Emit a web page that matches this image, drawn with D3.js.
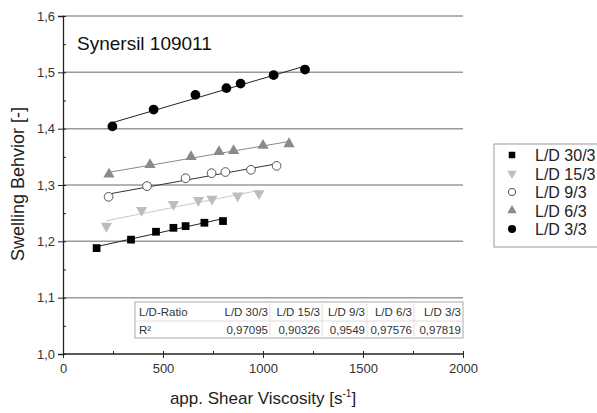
<!DOCTYPE html>
<html><head><meta charset="utf-8">
<script src="https://cdn.jsdelivr.net/npm/d3@7"></script>
<style>body{margin:0;background:#fff}svg{display:block;font-family:Arial,"Liberation Sans",sans-serif}</style>
</head><body>
<svg id="c" width="597" height="413"></svg>
<script>
const seriesNames = ["L/D 30/3","L/D 15/3","L/D 9/3","L/D 6/3","L/D 3/3"];
const x_30_3 = [168,340,465,552,613,707,800];
const y_30_3 = [1.188,1.203,1.217,1.224,1.227,1.233,1.236];
const x_15_3 = [217,393,552,677,745,873,980];
const y_15_3 = [1.227,1.255,1.266,1.273,1.275,1.281,1.285];
const x_9_3 = [228,420,613,743,812,940,1068];
const y_9_3 = [1.279,1.298,1.312,1.321,1.323,1.327,1.334];
const x_6_3 = [230,435,640,780,853,1000,1130];
const y_6_3 = [1.319,1.336,1.350,1.359,1.361,1.370,1.373];
const x_3_3 = [247,453,662,817,888,1053,1210];
const y_3_3 = [1.404,1.434,1.460,1.472,1.480,1.495,1.505];
const r2Values = ["0,97095","0,90326","0,9549","0,97576","0,97819"];
const xTicks = [0,500,1000,1500,2000];
const yTicks = [1.0,1.1,1.2,1.3,1.4,1.5,1.6];

const styles = [
  {sym:d3.symbolSquare, size:60, fill:"#000", stroke:"none", line:"#222"},
  {sym:"down", size:55, fill:"#bdbdbd", stroke:"none", line:"#c8c8c8"},
  {sym:d3.symbolCircle, size:60, fill:"#fff", stroke:"#555", line:"#333"},
  {sym:d3.symbolTriangle, size:55, fill:"#8a8a8a", stroke:"none", line:"#8a8a8a"},
  {sym:d3.symbolCircle, size:75, fill:"#000", stroke:"none", line:"#222"}
];
const xs=[x_30_3,x_15_3,x_9_3,x_6_3,x_3_3], ys=[y_30_3,y_15_3,y_9_3,y_6_3,y_3_3];

const svg=d3.select("#c");
const x=d3.scaleLinear().domain([0,2000]).range([63,463]);
const y=d3.scaleLinear().domain([1.0,1.6]).range([354,16]);

// gridlines
svg.append("g").selectAll("line").data(yTicks.slice(1)).join("line")
  .attr("x1",x(0)).attr("x2",x(2000)).attr("y1",d=>y(d)).attr("y2",d=>y(d))
  .attr("stroke","#9a9a9a").attr("stroke-width",1.5);

// axes
const xa=svg.append("g").attr("transform",`translate(0,${y(1.0)})`)
  .call(d3.axisBottom(x).tickValues(xTicks).tickFormat(d3.format("d")).tickSize(4).tickPadding(6));
const xm=svg.append("g").attr("transform",`translate(0,${y(1.0)})`)
  .call(d3.axisTop(x).tickValues(d3.range(0,2001,250)).tickFormat("").tickSize(3));
const ya=svg.append("g").attr("transform",`translate(${x(0)},0)`)
  .call(d3.axisLeft(y).tickValues(yTicks).tickFormat(d=>d3.format(".1f")(d).replace(".",",")).tickSize(5).tickPadding(3));
const ym=svg.append("g").attr("transform",`translate(${x(0)},0)`)
  .call(d3.axisRight(y).tickValues(d3.range(1.0,1.601,0.05)).tickFormat("").tickSize(3));
[xa,xm,ya,ym].forEach(g=>{g.select(".domain").attr("stroke","#222").attr("stroke-width",1.3);
  g.selectAll(".tick line").attr("stroke","#222");
  g.selectAll("text").attr("font-size",13).attr("fill","#333").attr("font-family","Arial,'Liberation Sans',sans-serif");});
xa.select(".domain").attr("d",`M${x(0)},0H${x(2000)}`);
xm.select(".domain").remove();
ym.select(".domain").remove();

function sym(s,size){ if(s==="down") return d3.symbol(d3.symbolTriangle,size)(); return d3.symbol(s,size)(); }

// fit lines and points
xs.forEach((xv,i)=>{
  const yv=ys[i], mx=d3.mean(xv), my=d3.mean(yv);
  const b=d3.sum(xv.map((v,k)=>(v-mx)*(yv[k]-my)))/d3.sum(xv.map(v=>(v-mx)*(v-mx)));
  const a=my-b*mx, x0=d3.min(xv), x1=d3.max(xv);
  svg.append("line").attr("x1",x(x0)).attr("x2",x(x1)).attr("y1",y(a+b*x0)).attr("y2",y(a+b*x1))
    .attr("stroke",styles[i].line).attr("stroke-width",1);
  const st=styles[i];
  svg.append("g").selectAll("path").data(xv.map((v,k)=>[v,yv[k]])).join("path")
    .attr("d",sym(st.sym,st.size))
    .attr("transform",d=>`translate(${x(d[0])},${y(d[1])})${st.sym==="down"?" rotate(180)":""}`)
    .attr("fill",st.fill).attr("stroke",st.stroke).attr("stroke-width",1);
});

// title
svg.append("text").attr("x",77).attr("y",50).attr("font-size",19).attr("fill","#111").text("Synersil 109011");

// axis labels
svg.append("text").attr("transform","translate(24,184) rotate(-90)").attr("text-anchor","middle")
  .attr("font-size",18).attr("fill","#222").text("Swelling Behvior [-]");
const xl=svg.append("text").attr("x",263).attr("y",404).attr("text-anchor","middle").attr("font-size",17).attr("fill","#222");
xl.append("tspan").text("app. Shear Viscosity [s");
xl.append("tspan").attr("font-size",10).attr("dy",-7).text("-1");
xl.append("tspan").attr("dy",7).text("]");

// table
const colX=[135,218,270,322,367,414,463], rowY=[302,321,338];
const tb=svg.append("g");
tb.append("rect").attr("x",colX[0]).attr("y",rowY[0]).attr("width",colX[6]-colX[0]).attr("height",rowY[2]-rowY[0])
  .attr("fill","#fff").attr("stroke","#aaa");
tb.append("line").attr("x1",colX[0]).attr("x2",colX[6]).attr("y1",rowY[1]).attr("y2",rowY[1]).attr("stroke","#ddd");
colX.slice(2,6).forEach(cx=>tb.append("line").attr("x1",cx).attr("x2",cx).attr("y1",rowY[0]).attr("y2",rowY[2]).attr("stroke","#ddd"));
const tf=11.5;
tb.append("text").attr("x",colX[0]+4).attr("y",rowY[0]+14).attr("font-size",tf).attr("fill","#333").text("L/D-Ratio");
tb.append("text").attr("x",colX[0]+4).attr("y",rowY[1]+13).attr("font-size",tf).attr("fill","#333").text("R²");
seriesNames.forEach((s,i)=>{
  tb.append("text").attr("x",colX[i+2]-2).attr("y",rowY[0]+14).attr("text-anchor","end").attr("font-size",tf).attr("fill","#333").text(s);
  tb.append("text").attr("x",colX[i+2]-2).attr("y",rowY[1]+13).attr("text-anchor","end").attr("font-size",tf).attr("fill","#333").text(r2Values[i]);
});

// legend
const lg=svg.append("g");
lg.append("rect").attr("x",494).attr("y",144).attr("width",120).attr("height",103).attr("fill","#fff").attr("stroke","#999");
seriesNames.forEach((s,i)=>{
  const yy=155+i*18.5, st=styles[i];
  lg.append("path").attr("d",sym(st.sym,st.size*0.7))
    .attr("transform",`translate(512,${yy})${st.sym==="down"?" rotate(180)":""}`)
    .attr("fill",st.fill).attr("stroke",st.stroke);
  lg.append("text").attr("x",535).attr("y",yy+6).attr("font-size",16).attr("fill","#222").text(s);
});
</script>
</body></html>
